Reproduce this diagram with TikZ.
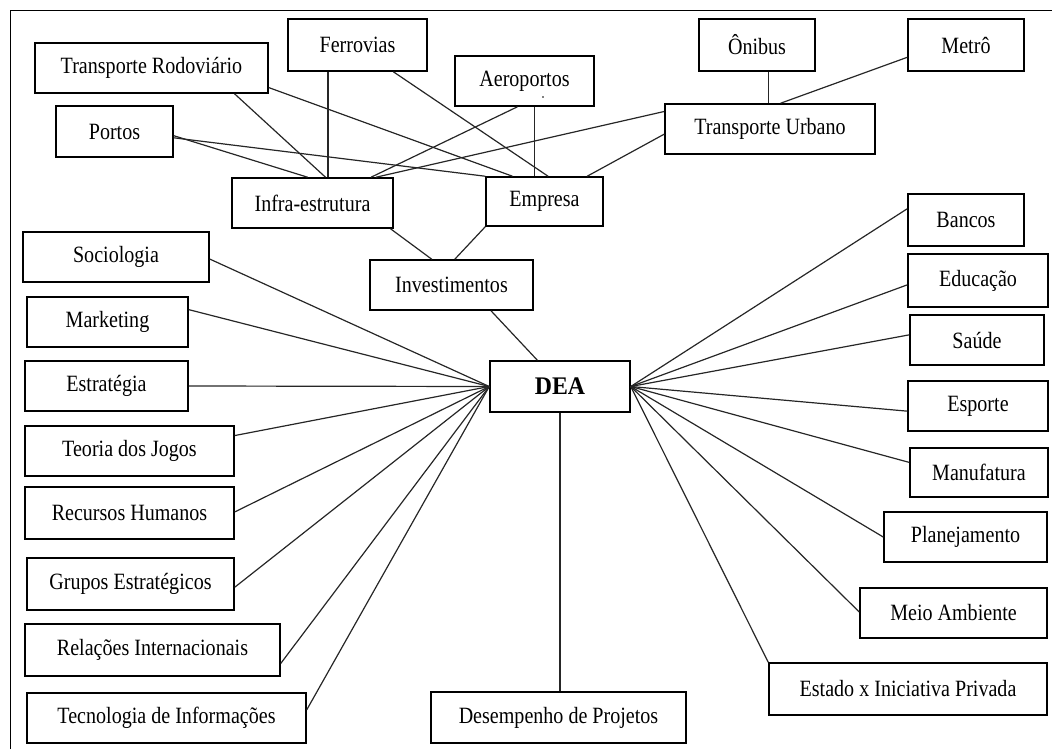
\documentclass[tikz,border=0pt]{standalone}
\usepackage{fontspec}
\setmainfont{Liberation Serif}[FakeStretch=0.86]
\newfontfamily\deafont{Liberation Serif}[FakeStretch=0.94]
\usetikzlibrary{calc}

% place a framed box: name, left, top, right, bottom (px), text
\newcommand\placebox[6]{%
  \node[wbox={(#4)-(#2)}{(#5)-(#3)}] (#1) at ({((#2)+(#4))/2},{((#3)+(#5))/2}) {#6};}

\begin{document}
\begin{tikzpicture}[
    x=0.75pt, y=-0.75pt,
    wbox/.style 2 args={draw=black, line width=1.15pt, fill=white,
      minimum width={(#1)*0.75pt}, minimum height={(#2)*0.75pt},
      inner sep=0pt, font=\fontsize{17.5}{19}\selectfont},
    link/.style={draw=black!85, line width=0.9pt},
    frameline/.style={draw=black, line width=1.2pt}
  ]
  \useasboundingbox (0,0) rectangle (1052,749);

  % outer frame (top and left sides)
  \draw[frameline] (10.5,749) -- (10.5,10.5) -- (1052,10.5);

  % transport branch
  \placebox{rodov}{35}{43}{268}{93}{Transporte Rodoviário}
  \placebox{ferrov}{288}{19}{427}{71}{Ferrovias}
  \placebox{aero}{455}{56}{594}{106}{Aeroportos}
  \placebox{onibus}{699}{19}{815}{71}{Ônibus}
  \placebox{metro}{908}{19}{1024}{71}{Metrô}
  \placebox{portos}{56}{106}{173}{157}{Portos}
  \placebox{urbano}{665}{104}{875}{154}{Transporte Urbano}
  \placebox{infra}{232}{178}{393}{228}{Infra-estrutura}
  \placebox{empresa}{486}{177}{603}{226}{Empresa}
  \placebox{invest}{370}{260}{533}{310}{Investimentos}
  \fill (543,97) circle (0.9);

  % centre
  \node[wbox={140}{51}, font=\deafont\bfseries\fontsize{19}{22}\selectfont] (dea) at (560,386.5) {DEA};

  % left column
  \placebox{socio}{23}{232}{209}{282}{Sociologia}
  \placebox{mkt}{27}{297}{188}{347}{Marketing}
  \placebox{estr}{25}{361}{188}{411}{Estratégia}
  \placebox{teoria}{25}{426}{234}{476}{Teoria dos Jogos}
  \placebox{rh}{25}{487}{234}{539}{Recursos Humanos}
  \placebox{grupos}{27}{558}{234}{610}{Grupos Estratégicos}
  \placebox{relacoes}{25}{624}{280}{676}{Relações Internacionais}
  \placebox{tec}{27}{693}{306}{743}{Tecnologia de Informações}

  % bottom
  \placebox{desemp}{431}{692}{686}{743}{Desempenho de Projetos}

  % right column
  \placebox{bancos}{908}{194}{1024}{246}{Bancos}
  \placebox{educ}{908}{254}{1048}{307}{Educação}
  \placebox{saude}{910}{315}{1044}{365}{Saúde}
  \placebox{esporte}{908}{381}{1048}{431}{Esporte}
  \placebox{manuf}{910}{448}{1048}{497}{Manufatura}
  \placebox{planej}{884}{512}{1047}{562}{Planejamento}
  \placebox{meio}{860}{588}{1047}{638}{Meio Ambiente}
  \placebox{estado}{769}{663}{1047}{715}{Estado x Iniciativa Privada}

  % foot points of the vertical connectors
  \coordinate (ferrovfoot) at ($(ferrov.south west)!0.29!(ferrov.south east)$);
  \coordinate (aerofoot) at ($(aero.south west)!0.57!(aero.south east)$);
  \coordinate (onibusfoot) at ($(onibus.south west)!0.6!(onibus.south east)$);

  % transport connectors
  \draw[link] (ferrovfoot) -- (ferrovfoot |- infra.north);
  \draw[link] ($(rodov.south west)!0.854!(rodov.south east)$) -- ($(infra.north west)!0.58!(infra.north east)$);
  \draw[link] ($(rodov.north east)!0.88!(rodov.south east)$) -- ($(empresa.north west)!0.23!(empresa.north east)$);
  \draw[link] ($(portos.north east)!0.58!(portos.south east)$) -- ($(infra.north west)!0.47!(infra.north east)$);
  \draw[link] ($(portos.north east)!0.62!(portos.south east)$) -- (empresa.north west);
  \draw[link] ($(ferrov.south west)!0.755!(ferrov.south east)$) -- ($(empresa.north west)!0.53!(empresa.north east)$);
  \draw[link] (aerofoot) -- (aerofoot |- empresa.north);
  \draw[link] ($(aero.south west)!0.45!(aero.south east)$) -- ($(infra.north west)!0.86!(infra.north east)$);
  \draw[link] ($(urbano.north west)!0.16!(urbano.south west)$) -- ($(infra.north west)!0.89!(infra.north east)$);
  \draw[link] ($(urbano.north west)!0.6!(urbano.south west)$) -- ($(empresa.north west)!0.86!(empresa.north east)$);
  \draw[link] (onibusfoot) -- (onibusfoot |- urbano.north);
  \draw[link] ($(metro.north west)!0.73!(metro.south west)$) -- ($(urbano.north west)!0.55!(urbano.north east)$);
  \draw[link] ($(infra.south west)!0.98!(infra.south east)$) -- ($(invest.north west)!0.38!(invest.north east)$);
  \draw[link] (empresa.south west) -- ($(invest.north west)!0.52!(invest.north east)$);
  \draw[link] ($(invest.south west)!0.74!(invest.south east)$) -- ($(dea.north west)!0.34!(dea.north east)$);

  % DEA spokes, left
  \draw[link] (dea.west) -- ($(socio.north east)!0.54!(socio.south east)$);
  \draw[link] (dea.west) -- ($(mkt.north east)!0.26!(mkt.south east)$);
  \draw[link] (dea.west) -- ($(estr.north east)!0.5!(estr.south east)$);
  \draw[link] (dea.west) -- ($(teoria.north east)!0.2!(teoria.south east)$);
  \draw[link] (dea.west) -- ($(rh.north east)!0.48!(rh.south east)$);
  \draw[link] (dea.west) -- ($(grupos.north east)!0.56!(grupos.south east)$);
  \draw[link] (dea.west) -- ($(relacoes.north east)!0.75!(relacoes.south east)$);
  \draw[link] (dea.west) -- ($(tec.north east)!0.34!(tec.south east)$);

  % DEA spokes, right
  \draw[link] (dea.east) -- ($(bancos.north west)!0.29!(bancos.south west)$);
  \draw[link] (dea.east) -- ($(educ.north west)!0.58!(educ.south west)$);
  \draw[link] (dea.east) -- ($(saude.north west)!0.4!(saude.south west)$);
  \draw[link] (dea.east) -- ($(esporte.north west)!0.6!(esporte.south west)$);
  \draw[link] (dea.east) -- ($(manuf.north west)!0.3!(manuf.south west)$);
  \draw[link] (dea.east) -- ($(planej.north west)!0.5!(planej.south west)$);
  \draw[link] (dea.east) -- ($(meio.north west)!0.48!(meio.south west)$);
  \draw[link] (dea.east) -- (estado.north west);

  % DEA down to projects
  \draw[link] (dea.south) -- (dea.south |- desemp.north);
\end{tikzpicture}
\end{document}
